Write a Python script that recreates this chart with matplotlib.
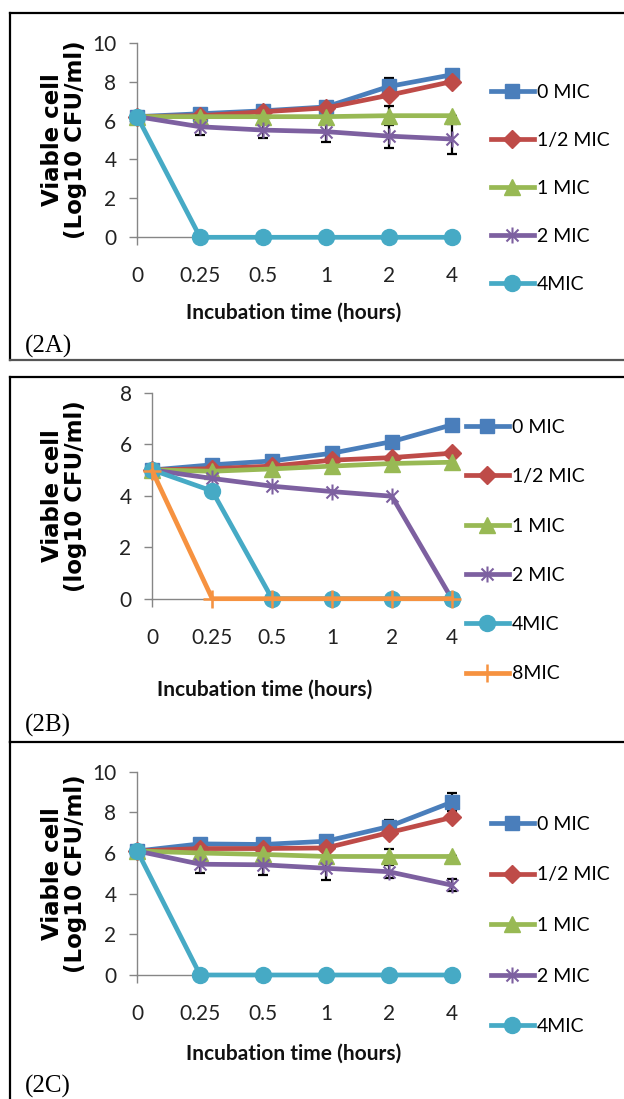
import numpy as np
import matplotlib
matplotlib.use("Agg")
import matplotlib.pyplot as plt
from matplotlib.lines import Line2D
from matplotlib.path import Path

# ---- data ----
times = ["0", "0.25", "0.5", "1", "2", "4"]

a_labels = ["0 MIC", "1/2 MIC", "1 MIC", "2 MIC", "4MIC"]
a_0mic = [6.2, 6.35, 6.5, 6.7, 7.75, 8.35]
a_half = [6.2, 6.25, 6.45, 6.65, 7.3, 8.0]
a_1mic = [6.2, 6.2, 6.2, 6.2, 6.25, 6.25]
a_2mic = [6.2, 5.68, 5.51, 5.43, 5.2, 5.05]
a_4mic = [6.2, 0, 0, 0, 0, 0]
a_err_0mic = [0, 0, 0, 0, 0.45, 0]
a_err_1mic = [0, 0, 0, 0, 0.5, 0]
a_err_2mic = [0, 0.42, 0.42, 0.52, 0.63, 0.75]

b_labels = ["0 MIC", "1/2 MIC", "1 MIC", "2 MIC", "4MIC", "8MIC"]
b_0mic = [5.0, 5.2, 5.35, 5.65, 6.1, 6.75]
b_half = [5.0, 5.05, 5.15, 5.38, 5.48, 5.65]
b_1mic = [5.0, 4.95, 5.04, 5.15, 5.25, 5.3]
b_2mic = [5.0, 4.67, 4.37, 4.16, 3.98, 0]
b_4mic = [5.0, 4.18, 0, 0, 0, 0]
b_8mic = [4.95, 0, 0, 0, 0, 0]

c_labels = ["0 MIC", "1/2 MIC", "1 MIC", "2 MIC", "4MIC"]
c_0mic = [6.1, 6.45, 6.42, 6.58, 7.3, 8.5]
c_half = [6.1, 6.22, 6.22, 6.25, 7.0, 7.75]
c_1mic = [6.1, 6.0, 5.93, 5.83, 5.83, 5.83]
c_2mic = [6.1, 5.45, 5.42, 5.25, 5.08, 4.42]
c_4mic = [6.1, 0, 0, 0, 0, 0]
c_err_0mic = [0, 0, 0, 0, 0.32, 0.43]
c_err_1mic = [0, 0, 0, 0, 0.38, 0]
c_err_2mic = [0, 0.41, 0.49, 0.58, 0.33, 0.31]

# ---- style ----
W, H = 624, 1099
plt.rcParams['font.family'] = ['Lato', 'DejaVu Sans']

BLUE = '#4a7ebb'
RED = '#be4b48'
GREEN = '#98b954'
PURPLE = '#7d60a0'
AQUA = '#46aac5'
ORANGE = '#f69240'
GREY = '#868686'

star = Path([(0, -1), (0, 1), (-0.75, -0.75), (0.75, 0.75), (-0.75, 0.75), (0.75, -0.75)],
            [Path.MOVETO, Path.LINETO, Path.MOVETO, Path.LINETO, Path.MOVETO, Path.LINETO])

styles = [
    dict(color=BLUE, marker='s', ms=10.5),
    dict(color=RED, marker='D', ms=9),
    dict(color=GREEN, marker='^', ms=11.5),
    dict(color=PURPLE, marker=star, ms=11.5, mew=1.5),
    dict(color=AQUA, marker='o', ms=11.5),
    dict(color=ORANGE, marker='+', ms=13, mew=1.8),
]


def fx(px):
    return px / W


def fy(py):
    return 1 - py / H


fig = plt.figure(figsize=(W / 100, H / 100), dpi=100)


def panel(left, right, top, bottom, ymax, series, labels, errs, ylabel, xlab_x, xlab_y,
          tag, tag_y, leg_x, leg_y, leg_sp):
    ax = fig.add_axes([fx(left), fy(bottom), (right - left) / W, (bottom - top) / H])
    x = np.arange(len(times))
    for (vals, err) in errs:
        ax.errorbar(x, vals, yerr=err, fmt='none', ecolor='black', elinewidth=1.6,
                    capsize=3.5, capthick=1.6, zorder=2, clip_on=False)
    for vals, lab, st in zip(series, labels, styles):
        ax.plot(x, vals, lw=3.4, label=lab, clip_on=False, zorder=3, **st)
    ax.set_xlim(0, len(times) - 1)
    ax.set_ylim(0, ymax)
    ax.set_yticks(np.arange(0, ymax + 1, 2))
    ax.set_xticks(x)
    ax.set_xticklabels(times)
    for s in ['top', 'right']:
        ax.spines[s].set_visible(False)
    for s in ['left', 'bottom']:
        ax.spines[s].set_color(GREY)
        ax.spines[s].set_linewidth(1.0)
    ax.tick_params(axis='both', direction='out', length=6, width=1.0, color=GREY,
                   labelsize=15, labelcolor='#222222')
    ax.tick_params(axis='x', pad=15)
    ax.tick_params(axis='y', pad=9)
    fig.text(fx(64), fy((top + bottom) / 2), ylabel, rotation=90, ha='center', va='center',
             multialignment='center', fontsize=16.5, fontweight='bold',
             family='DejaVu Sans', linespacing=0.95)
    fig.text(fx(xlab_x), fy(xlab_y), 'Incubation time (hours)', ha='center', va='center',
             fontsize=15, fontweight='bold', color='#111111')
    fig.text(fx(25), fy(tag_y), tag, ha='left', va='center', fontsize=18,
             family=['Liberation Serif', 'DejaVu Serif'])
    ax.legend(loc='upper left', bbox_to_anchor=(fx(leg_x), fy(leg_y)),
              bbox_transform=fig.transFigure, frameon=False, fontsize=14,
              borderpad=0, borderaxespad=0, handlelength=2.2, handletextpad=0.15,
              labelspacing=leg_sp, markerscale=1.0)
    return ax


panel(137.3, 451.7, 42.7, 237.3, 10,
      [a_0mic, a_half, a_1mic, a_2mic, a_4mic], a_labels,
      [(a_0mic, a_err_0mic), (a_1mic, a_err_1mic), (a_2mic, a_err_2mic)],
      'Viable cell\n(Log10 CFU/ml)', 294, 312.3, '(2A)', 346.7, 491, 84, 1.59)

panel(152.4, 451.7, 392.7, 598.7, 8,
      [b_0mic, b_half, b_1mic, b_2mic, b_4mic, b_8mic], b_labels, [],
      'Viable cell\n(log10 CFU/ml)', 265, 690, '(2B)', 725, 466, 419, 1.66)

panel(137.3, 451.7, 771.7, 975, 10,
      [c_0mic, c_half, c_1mic, c_2mic, c_4mic], c_labels,
      [(c_0mic, c_err_0mic), (c_1mic, c_err_1mic), (c_2mic, c_err_2mic)],
      'Viable cell\n(Log10 CFU/ml)', 294, 1053.3, '(2C)', 1086.7, 491, 815.7, 1.73)

# panel frames
frame = [((10, 624), (13.3, 13.3), 'black'),
         ((10, 10), (13.3, 360), 'black'),
         ((10, 624), (360, 360), '#555555'),
         ((10, 624), (376.7, 376.7), 'black'),
         ((10, 10), (376.7, 741.7), 'black'),
         ((10, 624), (741.7, 741.7), 'black'),
         ((10, 10), (741.7, 1099), 'black')]
for xs, ys, c in frame:
    fig.add_artist(Line2D([fx(v) for v in xs], [fy(v) for v in ys], color=c, lw=1.6))

fig.savefig('out.png', dpi=100)
